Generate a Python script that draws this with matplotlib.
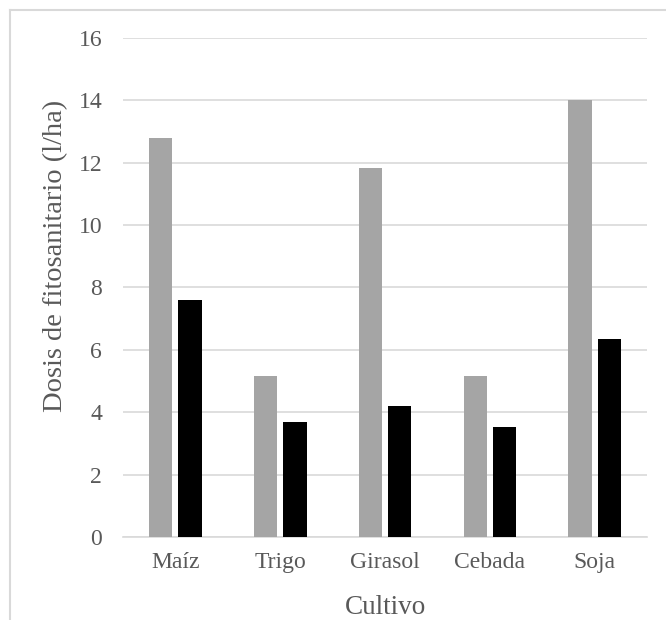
import matplotlib.pyplot as plt
import numpy as np
from matplotlib.lines import Line2D

plt.rcParams['font.family'] = ['Liberation Serif', 'DejaVu Serif']

cultivos = ['Maíz', 'Trigo', 'Girasol', 'Cebada', 'Soja']
serie_gris = [12.8, 5.15, 11.83, 5.15, 14.0]
serie_negra = [7.6, 3.7, 4.2, 3.53, 6.35]

txt = '#595959'
grid = '#d9d9d9'

fig = plt.figure(figsize=(6.66, 6.2), dpi=100)
ax = fig.add_axes([0.1847, 0.1339, 0.7868, 0.8048])

x = np.arange(len(cultivos))
w = 0.222
off = 0.14
ax.bar(x - off, serie_gris, w, color='#a5a5a5', zorder=3)
ax.bar(x + off, serie_negra, w, color='#000000', zorder=3)

ax.set_xlim(-0.5, len(cultivos) - 0.5)
ax.set_ylim(0, 16)
ax.set_yticks(range(0, 17, 2))
ax.set_xticks(x)
ax.set_xticklabels(cultivos)
ax.yaxis.grid(True, color=grid, linewidth=1.2, zorder=0)
for s in ['top', 'right', 'left']:
    ax.spines[s].set_visible(False)
ax.spines['bottom'].set_color(grid)
ax.spines['bottom'].set_linewidth(1.2)
ax.tick_params(length=0, labelsize=17, colors=txt)
ax.tick_params(axis='y', pad=15)
ax.tick_params(axis='x', pad=11)

# titulos de ejes
fig.text(56 / 666, 1 - 256 / 620, 'Dosis de fitosanitario (l/ha)', rotation=90,
         fontsize=20.5, color=txt, ha='center', va='center')
fig.text(385 / 666, 1 - 614 / 620, 'Cultivo',
         fontsize=19.5, color=txt, ha='center', va='baseline')

# borde del gráfico (solo izquierda y arriba visibles)
fx = 9.5 / 666
fy = 1 - 9.5 / 620
fig.add_artist(Line2D([fx, fx], [0, fy], color=grid, linewidth=1.5, transform=fig.transFigure))
fig.add_artist(Line2D([fx, 1], [fy, fy], color=grid, linewidth=1.5, transform=fig.transFigure))

fig.savefig('out.png', dpi=100)
